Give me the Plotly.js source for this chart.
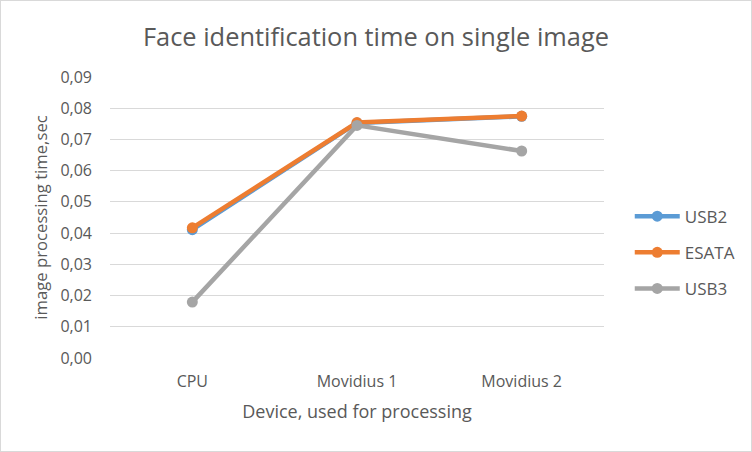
<!DOCTYPE html>
<html><head><meta charset="utf-8">
<script src="https://cdn.plot.ly/plotly-3.0.1.min.js"></script>
<style>html,body{margin:0;padding:0;background:#fff}#chart{width:752px;height:452px;box-sizing:border-box;border:1px solid #d9d9d9}</style>
</head><body><div id="chart"></div>
<script>
const categories = ["CPU", "Movidius 1", "Movidius 2"];
const usb2 = [0.0411, 0.0753, 0.0774];
const esata = [0.0417, 0.0754, 0.0775];
const usb3 = [0.0179, 0.0745, 0.0663];
const yTicks = [0, 0.01, 0.02, 0.03, 0.04, 0.05, 0.06, 0.07, 0.08, 0.09];
const yTickText = yTicks.map(v => v.toFixed(2).replace('.', ','));

const font = "Open Sans, Noto Sans, sans-serif";
function tr(name, y, color, g){
  return {x: categories, y: y, name: name, type: 'scatter', mode: 'lines+markers',
    line: {color: color, width: 4.5}, marker: {color: color, size: 11}, legendgroup: g};
}
const data = [tr('USB2', usb2, '#5B9BD5', 'a'), tr('ESATA', esata, '#ED7D31', 'b'), tr('USB3', usb3, '#A5A5A5', 'c')];
const layout = {
  width: 750, height: 450,
  margin: {l: 109, r: 146, t: 76, b: 93},
  paper_bgcolor: '#fff', plot_bgcolor: '#fff',
  font: {family: font, color: '#595959', size: 16},
  title: {text: 'Face identification time on single image', font: {size: 25.4, color: '#595959', family: font}, x: 0.5, xanchor: 'center', y: 0.919, yanchor: 'middle'},
  xaxis: {type: 'category', range: [-0.5, 2.5], showgrid: false, zeroline: false, showline: false, ticks: '',
    tickfont: {size: 16, color: '#595959'}, ticklabelstandoff: 12,
    title: {text: 'Device, used for processing', font: {size: 18, color: '#595959'}, standoff: 14}},
  yaxis: {range: [0, 0.09], tickvals: yTicks, ticktext: yTickText, showgrid: true, gridcolor: '#d9d9d9', gridwidth: 1,
    zeroline: false, showline: false, ticks: '', tickfont: {size: 16, color: '#595959'}, ticklabelstandoff: 17,
    title: {text: 'image processing time,sec', font: {size: 16.7, color: '#595959'}, standoff: 8}},
  legend: {x: 1.05, y: 0.375, xanchor: 'left', yanchor: 'middle', font: {size: 17, color: '#595959'},
    tracegroupgap: 11, itemwidth: 45},
  showlegend: true
};
Plotly.newPlot('chart', data, layout, {displayModeBar: false, staticPlot: true});
</script></body></html>
